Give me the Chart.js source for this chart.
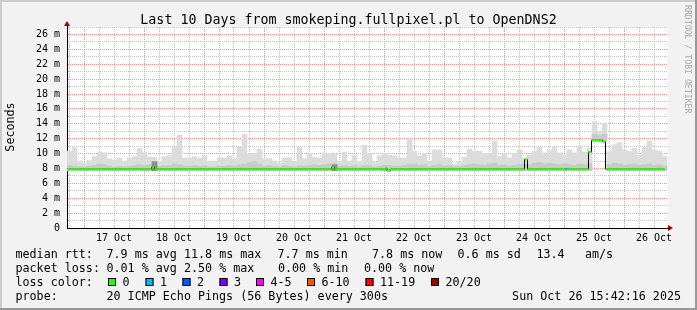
<!DOCTYPE html>
<html>
<head>
<meta charset="utf-8">
<script src="https://cdn.jsdelivr.net/npm/chart.js@4.4.1/dist/chart.umd.min.js"></script>
<style>
  html, body { margin: 0; padding: 0; background: #f2f2f2; }
  canvas { display: block; }
</style>
</head>
<body>
<canvas id="chart" width="697" height="310"></canvas>
<script>
'use strict';

// x values are hours from the left edge of the graph, smoke comes in 2 h bins
const smokeMax = [
    10.3, 10.8, 9.0, 8.7, 9.05, 9.6, 10.2, 10.1, 9.3, 9.1,
    9.4, 8.9, 9.4, 9.6, 10.7, 10.2, 9.5, 9.5, 9.0, 9.6,
    9.7, 10.8, 12.5, 9.4, 9.4, 9.6, 9.4, 9.8, 9.0, 8.9,
    9.4, 9.4, 9.7, 9.3, 10.9, 12.6, 10.0, 10.0, 10.6, 9.3,
    9.3, 9.0, 8.7, 9.4, 9.45, 9.0, 10.9, 9.3, 10.0, 9.5,
    9.4, 10.1, 10.0, 9.9, 9.0, 10.2, 9.0, 9.8, 8.9, 11.1,
    10.0, 8.8, 9.7, 10.0, 9.8, 9.7, 9.4, 9.4, 12.1, 10.3,
    9.7, 10.0, 9.0, 10.5, 10.5, 9.4, 9.4, 8.6, 8.9, 9.5,
    10.6, 10.3, 10.3, 10.0, 10.0, 11.7, 9.6, 10.0, 9.4, 10.0,
    10.5, 9.4, 9.8, 10.3, 10.9, 9.9, 10.4, 10.9, 10.1, 9.8,
    10.5, 10.1, 10.9, 10.2, 10.7, 14.3, 13.0, 14.1, 10.3, 11.2,
    11.5, 10.5, 10.3, 10.7, 9.8, 10.9, 11.7, 10.5, 10.3, 9.6
];

const smokeMid = [
    8.4, 8.3, 8.2, 8.2, 8.3, 8.4, 8.6, 8.5, 8.3, 8.2,
    8.3, 8.2, 8.3, 8.4, 8.5, 8.4, 8.5, 8.9, 8.3, 8.4,
    8.4, 8.6, 8.5, 8.3, 8.3, 8.4, 8.3, 8.4, 8.2, 8.2,
    8.3, 8.3, 8.4, 8.3, 8.5, 8.6, 8.8, 8.9, 8.6, 8.3,
    8.4, 8.3, 8.2, 8.4, 8.3, 8.2, 8.4, 8.3, 8.4, 8.5,
    8.4, 8.5, 8.6, 8.7, 8.3, 8.4, 8.3, 8.4, 8.2, 8.4,
    8.4, 8.2, 8.3, 8.4, 8.4, 8.3, 8.3, 8.4, 8.6, 8.6,
    8.4, 8.5, 8.3, 8.4, 8.5, 8.3, 8.4, 8.2, 8.3, 8.4,
    8.5, 8.6, 8.5, 8.4, 8.6, 8.7, 8.4, 8.5, 8.3, 8.4,
    8.5, 8.6, 8.5, 8.7, 8.8, 8.6, 8.7, 8.6, 8.5, 8.6,
    8.5, 8.4, 8.6, 8.5, 8.6, 12.6, 12.4, 12.6, 8.5, 8.7,
    8.6, 8.4, 8.5, 8.6, 8.4, 8.5, 8.6, 8.4, 8.5, 8.3
];

const smokeMin = [
    7.7, 7.7, 7.7, 7.7, 7.7, 7.7, 7.7, 7.7, 7.7, 7.7,
    7.7, 7.7, 7.7, 7.7, 7.7, 7.7, 7.7, 7.7, 7.7, 7.7,
    7.7, 7.7, 7.7, 7.7, 7.7, 7.7, 7.7, 7.7, 7.7, 7.7,
    7.7, 7.7, 7.7, 7.7, 7.7, 7.7, 7.7, 7.7, 7.7, 7.7,
    7.7, 7.7, 7.7, 7.7, 7.7, 7.7, 7.7, 7.7, 7.7, 7.7,
    7.7, 7.7, 7.7, 7.7, 7.7, 7.7, 7.7, 7.7, 7.7, 7.7,
    7.7, 7.7, 7.7, 7.7, 7.7, 7.7, 7.7, 7.7, 7.7, 7.7,
    7.7, 7.7, 7.7, 7.7, 7.7, 7.7, 7.7, 7.7, 7.7, 7.7,
    7.7, 7.7, 7.7, 7.7, 7.7, 7.7, 7.7, 7.7, 7.7, 7.7,
    7.7, 7.7, 7.7, 7.7, 7.7, 7.7, 7.7, 7.7, 7.7, 7.7,
    7.7, 7.7, 7.7, 7.7, 7.7, 11.7, 11.7, 11.7, 7.7, 7.7,
    7.7, 7.7, 7.7, 7.7, 7.7, 7.7, 7.7, 7.7, 7.7, 7.7
];

// darkest smoke core, only a few bins have one
const smokeDarkBins = [17, 53];
const smokeDarkTop = [8.9, 8.5];

// median rtt (ms) as steps: value holds from medianHours[i] to medianHours[i+1]
const medianHours = [0, 33.8, 35.0, 105.8, 107.0, 127.4, 128.0, 129.2, 183.0, 184.2, 199.2, 200.0, 208.6, 209.8, 214.2, 215.4, 239.2];
const medianMs    = [7.9, 8.15, 7.9, 8.1, 7.9, 8.0, 7.7, 7.9, 9.2, 7.9, 7.9, 7.9, 10.2, 11.8, 11.6, 7.9, 7.9];
const medianLoss  = [0, 0, 0, 0, 0, 0, 0, 0, 0, 0, 1, 0, 0, 0, 0, 0, 0];

const dayLabels = ['17 Oct', '18 Oct', '19 Oct', '20 Oct', '21 Oct', '22 Oct', '23 Oct', '24 Oct', '25 Oct', '26 Oct'];
const firstMidnight = 6.8;   // hours from the left edge to 17 Oct 00:00

const lossLabels = ['0', '1', '2', '3', '4-5', '6-10', '11-19', '20/20'];
const lossColors = ['#26ff00', '#00b8ff', '#0059ff', '#7e00ff', '#ff00ff', '#ff5500', '#ff0000', '#a10000'];

const titleText = 'Last 10 Days from smokeping.fullpixel.pl to OpenDNS2';
const legendRows = [
    [[15.5, 'median rtt:'], [106.5, '7.9 ms avg'], [184, '11.8 ms max'], [277.5, '7.7 ms min'],
     [372, '7.8 ms now'], [457.5, '0.6 ms sd'], [536.5, '13.4'], [585, 'am/s']],
    [[15.5, 'packet loss:'], [106.5, '0.01 % avg'], [184, '2.50 % max'], [278, '0.00 % min'],
     [364, '0.00 % now']],
    [[15.5, 'loss color:']],
    [[15.5, 'probe:'], [106.5, '20 ICMP Echo Pings (56 Bytes) every 300s']]
];
const stampText = 'Sun Oct 26 15:42:16 2025';
const lossBoxX = [108, 145.5, 182.5, 219.5, 256, 307, 365.5, 431];

const MONO = '"DejaVu Sans Mono", "Liberation Mono", monospace';
const GRID_GRAY = 'rgba(175,175,175,0.75)';
const GRID_RED = 'rgba(255,110,110,0.75)';

function binPoints(tops, i0) {
    return tops.map((v, i) => ({x: 2 * i + 1, y: [smokeMin[i], v]}));
}

let greenData = [];
for (let i = 0; i < medianHours.length - 1; i++) {
    greenData.push({x: medianHours[i], y: medianMs[i]});
    greenData.push({x: medianHours[i + 1], y: medianMs[i]});
    greenData.push({x: medianHours[i + 1], y: null});
}
let blackData = medianHours.map((h, i) => ({x: h, y: medianMs[i]}));
let darkData = smokeDarkBins.map((b, k) => ({x: 2 * b + 1, y: [smokeMin[b], smokeDarkTop[k]]}));

function isMidnight(v) {
    let d = (v - firstMidnight) / 24;
    return Math.abs(d - Math.round(d)) < 1e-6;
}

const frame = {
    id: 'frame',
    beforeDraw(chart) {
        let ctx = chart.ctx, a = chart.chartArea;
        ctx.save();
        ctx.fillStyle = '#f2f2f2';
        ctx.fillRect(0, 0, chart.width, chart.height);
        ctx.fillStyle = '#cbcbcb';
        ctx.fillRect(0, 0, chart.width, 2);
        ctx.fillRect(0, 0, 2, chart.height);
        ctx.fillStyle = '#999999';
        ctx.fillRect(0, chart.height - 2, chart.width, 2);
        ctx.fillRect(chart.width - 2, 0, 2, chart.height);
        ctx.fillStyle = '#ffffff';
        ctx.fillRect(a.left, a.top, a.right - a.left, a.bottom - a.top);
        ctx.restore();
    },
    afterDraw(chart) {
        let ctx = chart.ctx, a = chart.chartArea;
        ctx.save();
        // axis arrows
        ctx.fillStyle = '#a00000';
        ctx.beginPath();
        ctx.moveTo(a.left - 3, a.top - 1);
        ctx.lineTo(a.left + 3, a.top - 1);
        ctx.lineTo(a.left, a.top - 6);
        ctx.fill();
        ctx.beginPath();
        ctx.moveTo(a.right, a.bottom - 3);
        ctx.lineTo(a.right, a.bottom + 3);
        ctx.lineTo(a.right + 5, a.bottom);
        ctx.fill();
        ctx.strokeStyle = '#000';
        ctx.lineWidth = 1;
        ctx.beginPath();
        ctx.moveTo(a.left + 0.5, a.top);
        ctx.lineTo(a.left + 0.5, a.top - 1);
        ctx.stroke();

        ctx.fillStyle = '#000';
        ctx.textBaseline = 'alphabetic';
        ctx.font = '13.3px ' + MONO;
        ctx.textAlign = 'center';
        ctx.fillText(titleText, 348.5, 24);

        ctx.font = '11.7px ' + MONO;
        ctx.textAlign = 'left';
        legendRows.forEach((row, r) => {
            for (let [x, t] of row) {
                ctx.fillText(t, x, 257.5 + 14 * r);
            }
        });
        ctx.textAlign = 'right';
        ctx.fillText(stampText, 681, 299.5);

        ctx.textAlign = 'left';
        lossLabels.forEach((lab, i) => {
            let x = lossBoxX[i];
            ctx.fillStyle = lossColors[i];
            ctx.fillRect(x, 278, 8, 8);
            ctx.strokeStyle = '#000';
            ctx.strokeRect(x + 0.5, 278.5, 7, 7);
            ctx.fillStyle = '#000';
            ctx.fillText(lab, x + 14.5, 285.5);
        });

        // axis title
        ctx.save();
        ctx.translate(14, 127);
        ctx.rotate(-Math.PI / 2);
        ctx.textAlign = 'center';
        ctx.textBaseline = 'alphabetic';
        ctx.fillText('Seconds', 0, 0);
        ctx.restore();

        ctx.save();
        ctx.translate(685, 5);
        ctx.rotate(Math.PI / 2);
        ctx.font = '8.2px ' + MONO;
        ctx.fillStyle = '#a8a8a8';
        ctx.textAlign = 'left';
        ctx.textBaseline = 'alphabetic';
        ctx.fillText('RRDTOOL / TOBI OETIKER', 0, 0);
        ctx.restore();

        ctx.restore();
    }
};

new Chart(document.getElementById('chart'), {
    type: 'bar',
    data: {
        datasets: [
            {
                type: 'line', label: 'median', order: 0,
                data: greenData, borderWidth: 2, pointRadius: 0, spanGaps: false,
                borderCapStyle: 'butt', borderColor: lossColors[0],
                segment: {
                    borderColor: (c) => lossColors[medianLoss[Math.floor(c.p0DataIndex / 3)]]
                }
            },
            {
                type: 'line', label: 'median steps', order: 1,
                data: blackData, borderWidth: 1, pointRadius: 0, stepped: 'before',
                borderColor: '#000000'
            },
            {
                label: 'smoke core', order: 2, grouped: false,
                data: darkData, backgroundColor: '#8c8c8c', borderWidth: 0
            },
            {
                label: 'smoke mid', order: 3, grouped: false,
                data: binPoints(smokeMid), backgroundColor: '#c9c9c9', borderWidth: 0
            },
            {
                label: 'smoke', order: 4, grouped: false,
                data: binPoints(smokeMax), backgroundColor: '#dcdcdc', borderWidth: 0
            }
        ]
    },
    options: {
        responsive: false,
        devicePixelRatio: 1,
        animation: false,
        events: [],
        layout: {padding: {left: 0, right: 29, top: 27, bottom: 0}},
        datasets: {bar: {barPercentage: 1, categoryPercentage: 1}},
        plugins: {legend: {display: false}, tooltip: {enabled: false}, title: {display: false}},
        scales: {
            x: {
                type: 'linear', min: 0, max: 240.4, offset: false, z: 1,
                afterBuildTicks: (scale) => {
                    let t = [];
                    for (let v = firstMidnight - 6; v <= scale.max; v += 6) {
                        t.push({value: Math.round(v * 10) / 10});
                    }
                    scale.ticks = t;
                },
                afterFit: (scale) => { scale.height = 82; },
                ticks: {
                    autoSkip: false, maxRotation: 0, minRotation: 0, padding: 4, color: '#000',
                    font: {family: MONO, size: 10},
                    callback: (v) => {
                        let d = (v - firstMidnight - 12) / 24;
                        let r = Math.round(d);
                        return Math.abs(d - r) < 1e-6 && r >= 0 && r < dayLabels.length ? dayLabels[r] : '';
                    }
                },
                grid: {
                    drawTicks: false, offset: false, lineWidth: 1,
                    color: (c) => isMidnight(c.tick.value) ? GRID_RED : GRID_GRAY
                },
                border: {display: true, color: '#000', width: 1, dash: [1, 1]}
            },
            y: {
                min: 0, max: 27, z: 1,
                afterBuildTicks: (scale) => {
                    let t = [];
                    for (let v = 0; v <= 27; v++) t.push({value: v});
                    scale.ticks = t;
                },
                afterFit: (scale) => { scale.width = 67; },
                ticks: {
                    autoSkip: false, padding: 7, color: '#000',
                    font: {family: MONO, size: 10},
                    callback: (v) => v % 2 ? '' : (v === 0 ? '0' : v + ' m')
                },
                grid: {
                    drawTicks: false, lineWidth: 1,
                    color: (c) => c.tick.value % 2 === 0 ? GRID_RED : GRID_GRAY
                },
                border: {display: true, color: '#000', width: 1, dash: [1, 1]}
            }
        }
    },
    plugins: [frame]
});
</script>
</body>
</html>
